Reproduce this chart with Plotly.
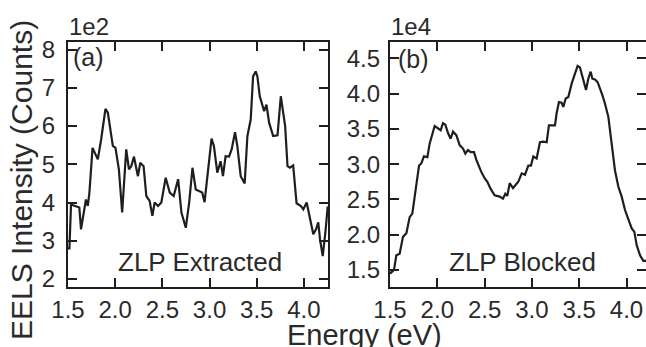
import plotly.graph_objects as go

# ---- (a) ZLP extracted spectrum: energy (eV) and counts ----
extracted_energy = [1.500, 1.515, 1.532, 1.585, 1.620, 1.638, 1.690, 1.710, 1.727, 1.760,
                    1.816, 1.851, 1.897, 1.922, 1.975, 2.003, 2.039, 2.074, 2.117, 2.146,
                    2.170, 2.199, 2.223, 2.241, 2.266, 2.301, 2.330, 2.365, 2.394, 2.418,
                    2.454, 2.489, 2.535, 2.578, 2.620, 2.667, 2.702, 2.748, 2.784, 2.819,
                    2.854, 2.886, 2.922, 2.947, 2.975, 3.021, 3.046, 3.082, 3.117, 3.142,
                    3.170, 3.206, 3.234, 3.270, 3.294, 3.330, 3.372, 3.401, 3.436, 3.461,
                    3.489, 3.507, 3.532, 3.578, 3.603, 3.631, 3.674, 3.720, 3.755, 3.780,
                    3.801, 3.826, 3.851, 3.886, 3.922, 3.968, 3.993, 4.029, 4.064, 4.099,
                    4.128, 4.152, 4.170, 4.199, 4.227, 4.252]
extracted_counts = [280, 280, 395, 391, 387, 330, 408, 391, 426, 543,
                    513, 565, 645, 635, 548, 543, 487, 374, 539, 487,
                    495, 520, 495, 469, 504, 495, 417, 404, 365, 400,
                    391, 400, 465, 426, 417, 461, 374, 334, 400, 491,
                    434, 430, 426, 401, 461, 567, 548, 478, 508, 469,
                    521, 520, 539, 584, 548, 469, 450, 574, 617, 730,
                    743, 730, 678, 639, 656, 609, 574, 576, 678, 635,
                    600, 495, 491, 497, 398, 391, 382, 400, 361, 317,
                    330, 348, 304, 260, 321, 390]

# ---- (b) ZLP blocked spectrum: energy (eV) and counts ----
blocked_energy = [1.500, 1.514, 1.542, 1.567, 1.602, 1.637, 1.673, 1.708, 1.736, 1.761,
                  1.807, 1.831, 1.859, 1.895, 1.919, 1.972, 2.007, 2.036, 2.060, 2.085,
                  2.113, 2.141, 2.166, 2.201, 2.236, 2.272, 2.296, 2.324, 2.353, 2.388,
                  2.413, 2.437, 2.465, 2.500, 2.529, 2.564, 2.606, 2.659, 2.694, 2.719,
                  2.740, 2.765, 2.800, 2.825, 2.856, 2.892, 2.927, 2.962, 2.990, 3.015,
                  3.050, 3.085, 3.120, 3.156, 3.180, 3.216, 3.244, 3.261, 3.286, 3.314,
                  3.332, 3.357, 3.385, 3.420, 3.455, 3.483, 3.508, 3.543, 3.572, 3.596,
                  3.621, 3.639, 3.667, 3.695, 3.720, 3.744, 3.772, 3.808, 3.843, 3.878,
                  3.914, 3.949, 3.984, 4.019, 4.055, 4.083, 4.108, 4.143, 4.178, 4.206]
blocked_counts = [14500, 14700, 15000, 17100, 17300, 19700, 20200, 22500, 23000, 25400,
                  29800, 30100, 31100, 31000, 32900, 35400, 35000, 34800, 35800, 35600,
                  34400, 33600, 34600, 34100, 32700, 32200, 31500, 32000, 31700, 31700,
                  30600, 29800, 28900, 28000, 27500, 26500, 25600, 25400, 25100, 25800,
                  25500, 27300, 26600, 27000, 27500, 28700, 28500, 29800, 29800, 31100,
                  30800, 33100, 33200, 33100, 35500, 35500, 35500, 37200, 38800, 38700,
                  38100, 39300, 39500, 41400, 42800, 43900, 43700, 42100, 40500, 42100,
                  43100, 42100, 42000, 41600, 40500, 39800, 38600, 36700, 32900, 29100,
                  26800, 25400, 23500, 22100, 20900, 20400, 18500, 17100, 16300, 16300]

energy_ticks = [1.5, 2.0, 2.5, 3.0, 3.5, 4.0]
extracted_ticks = [2, 3, 4, 5, 6, 7, 8]
blocked_ticks = [1.5, 2.0, 2.5, 3.0, 3.5, 4.0, 4.5]
extracted_scale = 1e2
blocked_scale = 1e4

W, H = 646, 347
ML, MR, MT, MB = 68, 0, 42, 60
PW, PH = W - ML - MR, H - MT - MB


def px(xp):
    return (xp - ML) / PW


def py(yp):
    return (H - MB - yp) / PH


INK = "#1e1e1e"
TXT = "#2a2a2a"
FONT = "Liberation Sans, Arial, sans-serif"

fig = go.Figure()
fig.add_trace(go.Scatter(x=extracted_energy, y=[c / extracted_scale for c in extracted_counts],
                         mode="lines", line=dict(color=INK, width=2.2),
                         xaxis="x", yaxis="y", showlegend=False))
fig.add_trace(go.Scatter(x=blocked_energy, y=[c / blocked_scale for c in blocked_counts],
                         mode="lines", line=dict(color=INK, width=2.2),
                         xaxis="x2", yaxis="y2", showlegend=False))
# carrier for the right-hand tick column of panel (b)
fig.add_trace(go.Scatter(x=blocked_energy, y=[c / blocked_scale for c in blocked_counts],
                         mode="lines", line=dict(width=0), opacity=0, hoverinfo="skip",
                         xaxis="x2", yaxis="y3", showlegend=False))

tick_font = dict(family=FONT, size=24, color=TXT)
common = dict(showgrid=False, zeroline=False, ticks="inside", ticklen=9, tickwidth=1.5,
              tickcolor=INK, showline=True, linecolor=INK, linewidth=2.2, tickfont=tick_font)

fig.update_layout(
    width=W, height=H, margin=dict(l=ML, r=MR, t=MT, b=MB),
    plot_bgcolor="white", paper_bgcolor="white",
    xaxis=dict(domain=[0, px(328)], range=[1.5, 4.255], tickvals=energy_ticks,
               tickformat=".1f", mirror="ticks", anchor="y", ticklabelstandoff=0, **common),
    yaxis=dict(domain=[0, 1], range=[1.79, 8.2], tickvals=extracted_ticks,
               mirror="ticks", anchor="x", ticklabelstandoff=6, **common),
    xaxis2=dict(domain=[px(390), 1], range=[1.5, 4.206], tickvals=energy_ticks,
                tickformat=".1f", mirror="ticks", anchor="y2", ticklabelstandoff=0, **common),
    yaxis2=dict(domain=[0, 1], range=[1.26, 4.73], tickvals=blocked_ticks,
                tickformat=".1f", anchor="x2", ticklabelstandoff=3, **common),
    yaxis3=dict(overlaying="y2", side="right", anchor="x2", range=[1.26, 4.73],
                tickvals=blocked_ticks, showgrid=False, zeroline=False, showline=False,
                ticks="inside", ticklen=9, tickwidth=1.5, tickcolor=INK,
                showticklabels=False),
)

ann = []
ann.append(dict(text="1e2", x=px(67), y=py(27), xanchor="left", yanchor="middle",
                font=dict(family=FONT, size=24, color=TXT)))
ann.append(dict(text="1e4", x=px(389), y=py(27), xanchor="left", yanchor="middle",
                font=dict(family=FONT, size=24, color=TXT)))
ann.append(dict(text="(a)", x=px(71), y=py(57), xanchor="left", yanchor="middle",
                font=dict(family=FONT, size=25, color=TXT)))
ann.append(dict(text="(b)", x=px(396), y=py(59), xanchor="left", yanchor="middle",
                font=dict(family=FONT, size=25, color=TXT)))
ann.append(dict(text="ZLP Extracted", x=px(200), y=py(262), xanchor="center", yanchor="middle",
                font=dict(family=FONT, size=26, color=TXT)))
ann.append(dict(text="ZLP Blocked", x=px(522), y=py(262), xanchor="center", yanchor="middle",
                font=dict(family=FONT, size=26, color=TXT)))
ann.append(dict(text="Energy (eV)", x=px(364), y=py(335), xanchor="center", yanchor="middle",
                font=dict(family=FONT, size=29, color=TXT)))
ann.append(dict(text="EELS Intensity (Counts)", x=px(21), y=py(180), xanchor="center",
                yanchor="middle", textangle=-90,
                font=dict(family=FONT, size=30, color=TXT)))
for a in ann:
    a.update(xref="paper", yref="paper", showarrow=False)
fig.update_layout(annotations=ann)

fig.write_html("out.html")
